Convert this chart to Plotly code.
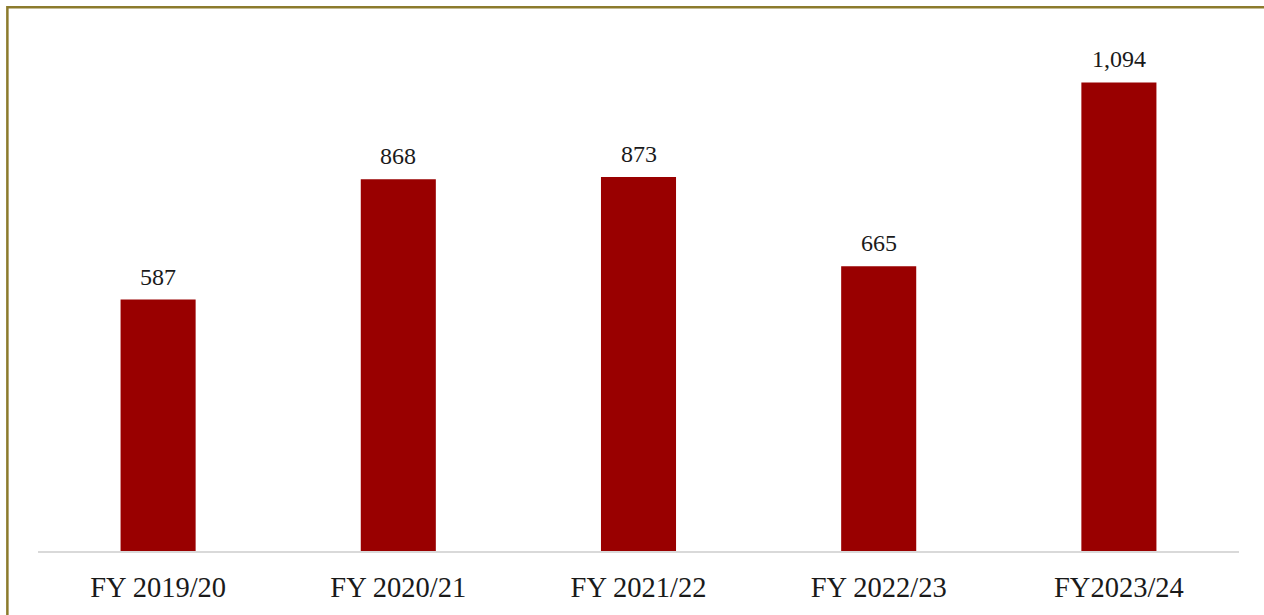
import plotly.graph_objects as go

categories = ["FY 2019/20", "FY 2020/21", "FY 2021/22", "FY 2022/23", "FY2023/24"]
values = [587, 868, 873, 665, 1094]
value_labels = ["587", "868", "873", "665", "1,094"]

SERIF = "Liberation Serif, Times New Roman, serif"

fig = go.Figure()
fig.add_trace(go.Bar(
    x=categories, y=values,
    marker=dict(color="#990000", line=dict(width=0)),
    hoverinfo="x+y",
))

for c, v, t in zip(categories, values, value_labels):
    fig.add_annotation(
        x=c, y=v, text=t, showarrow=False,
        xref="x", yref="y", yanchor="bottom", yshift=8,
        font=dict(family=SERIF, size=24, color="#1a1a1a"),
    )

# outer frame (partially off-page, like the reference)
fig.add_shape(type="rect", xref="paper", yref="paper",
              x0=-0.0255, x1=1.2, y0=-0.3, y1=1.058,
              line=dict(color="#8c7b2c", width=2.5), fillcolor="rgba(0,0,0,0)",
              layer="below")

fig.update_layout(
    width=1264, height=615,
    margin=dict(l=38, r=25, t=37, b=59),
    paper_bgcolor="white", plot_bgcolor="white",
    bargap=0.6875,
    showlegend=False,
    xaxis=dict(
        showline=True, linecolor="#d9d9d9", linewidth=2,
        ticks="outside", ticklen=10, tickcolor="rgba(0,0,0,0)",
        tickfont=dict(family=SERIF, size=28.5, color="#1a1a1a"),
        showgrid=False, zeroline=False,
    ),
    yaxis=dict(
        range=[0, 1200], visible=False, showgrid=False, zeroline=False,
    ),
)

fig.write_html("out.html")
